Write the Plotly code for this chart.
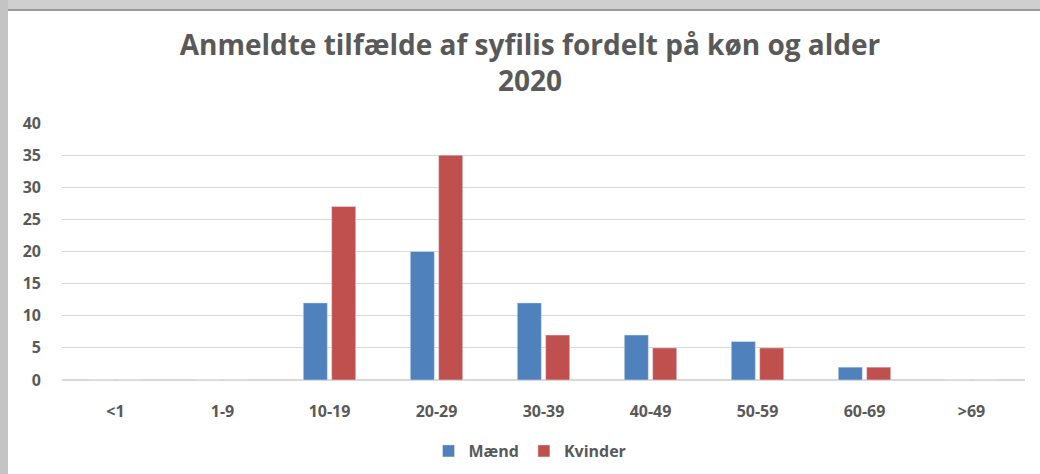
import plotly.graph_objects as go

AGE_GROUPS = ['<1', '1-9', '10-19', '20-29', '30-39', '40-49', '50-59', '60-69', '>69']
MAEND = [0, 0, 12, 20, 12, 7, 6, 2, 0]
KVINDER = [0, 0, 27, 35, 7, 5, 5, 2, 0]

W, H = 1040, 474
L, R, T, B = 62, 15, 123, 94
PW, PH = W - L - R, H - T - B


def px_x(px):
    return (px - L) / PW


def px_y(py):
    return (H - B - py) / PH


FONT = "Open Sans"
GREY = "#595959"

fig = go.Figure()
fig.add_bar(x=AGE_GROUPS, y=MAEND, name="Mænd", marker_color="#4F81BD")
fig.add_bar(x=AGE_GROUPS, y=KVINDER, name="Kvinder", marker_color="#C0504D")

# screenshot frame (grey bands top and left)
fig.add_shape(type="rect", xref="paper", yref="paper", x0=px_x(0), x1=px_x(W), y0=px_y(10), y1=px_y(0),
              fillcolor="#cfcfcf", line_width=0, layer="below")
fig.add_shape(type="line", xref="paper", yref="paper", x0=px_x(8), x1=px_x(W), y0=px_y(10), y1=px_y(10),
              line=dict(color="#9a9a9a", width=2))
fig.add_shape(type="rect", xref="paper", yref="paper", x0=px_x(0), x1=px_x(8), y0=px_y(H), y1=px_y(0),
              fillcolor="#c4c4c4", line_width=0, layer="below")

fig.update_layout(
    width=W, height=H,
    margin=dict(l=L, r=R, t=T, b=B, autoexpand=False),
    paper_bgcolor="white", plot_bgcolor="white",
    title=dict(text="Anmeldte tilfælde af syfilis fordelt på køn og alder<br>2020",
               x=px_x(530), xref="paper", xanchor="center", y=1 - 55 / H, yanchor="middle",
               font=dict(family=FONT, size=28, color=GREY, weight="bold")),
    barmode="group", bargap=0.47, bargroupgap=0.15,
    font=dict(family=FONT, color=GREY),
    legend=dict(orientation="h", x=px_x(530), xanchor="center", y=px_y(451), yanchor="middle",
                font=dict(size=16, color=GREY, weight="bold"), itemwidth=30, traceorder="normal"),
    showlegend=True,
)
fig.update_yaxes(range=[0, 40], dtick=5, showgrid=True, gridcolor="#d9d9d9", gridwidth=1,
                 zeroline=True, zerolinecolor="#d9d9d9", showline=False,
                 tickfont=dict(size=16, color=GREY, weight="bold"), ticklabelstandoff=20)
fig.update_xaxes(showline=False, tickfont=dict(size=16, color=GREY, weight="bold"),
                 ticklabelstandoff=20)

fig.write_html("out.html", config={"displayModeBar": False},
               post_script="document.body.style.margin='0';document.body.style.overflow='hidden';")
